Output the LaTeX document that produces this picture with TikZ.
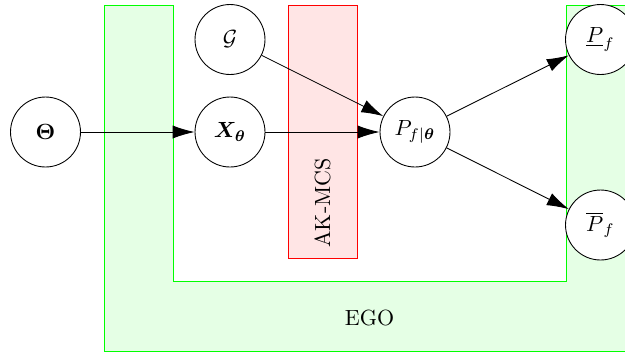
\documentclass[tikz,border=0pt]{standalone}
\usepackage{amsmath,bm}
\usetikzlibrary{arrows.meta}
\begin{document}
\begin{tikzpicture}[x=0.016cm,y=-0.016cm,
  var/.style={circle,draw,fill=white,minimum size=1.12cm,inner sep=0pt},
  arr/.style={-{Latex[length=10pt,width=6pt]}},
  egobox/.style={draw=green,fill=green!10},
  akbox/.style={draw=red,fill=red!10}]
\useasboundingbox (0,0) rectangle (625,352);
\clip (0,0) rectangle (625,352);
% EGO region (U shape)
\draw[egobox] (104,5) -- (173,5) -- (173,281) -- (566,281) -- (566,5) -- (640,5) -- (640,351) -- (104,351) -- cycle;
\node (ego) at (369.5,317.5) {EGO};
% AK-MCS box
\draw[akbox] (288,5) rectangle (357,258);
\node[rotate=90] (ak) at (322.5,203) {AK-MCS};
% nodes
\node[var] (theta) at (45.5,132) {$\boldsymbol{\Theta}$};
\node[var] (X) at (230,132) {$\boldsymbol{X}_{\boldsymbol{\theta}}$};
\node[var] (G) at (230,39.5) {$\mathcal{G}$};
\node[var] (P) at (415,132) {$P_{f|\boldsymbol{\theta}}$};
\node[var] (Pl) at (600.5,39.5) {$\underline{P}_f$};
\node[var] (Pu) at (600.5,225) {$\overline{P}_f$};
% connectors
\draw[arr] (theta) -- (X);
\draw[arr] (X) -- (P);
\draw[arr] (G) -- (P);
\draw[arr] (P) -- (Pl);
\draw[arr] (P) -- (Pu);
\end{tikzpicture}
\end{document}
